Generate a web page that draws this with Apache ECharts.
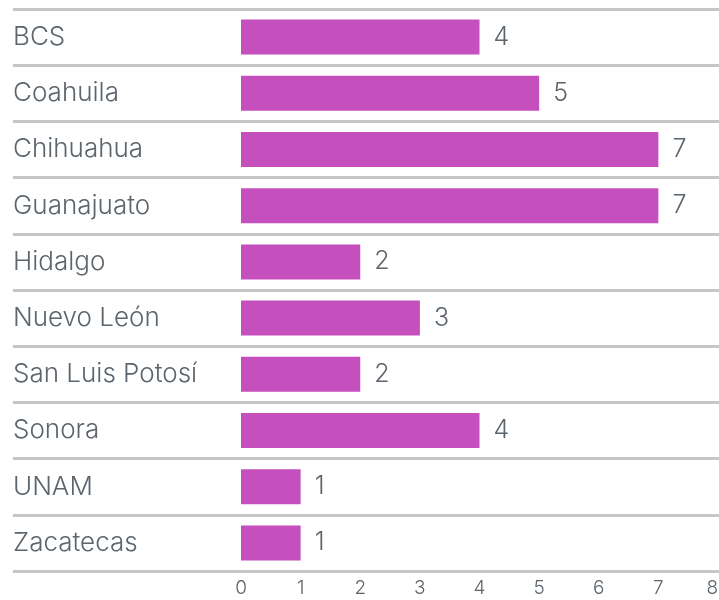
<!DOCTYPE html>
<html>
<head>
<meta charset="utf-8">
<script src="https://cdn.jsdelivr.net/npm/echarts@6/dist/echarts.min.js"></script>
<style>
  html, body { margin: 0; padding: 0; background: #fff; }
  #chart { width: 719px; height: 600px; }
</style>
</head>
<body>
<div id="chart"></div>
<script>
// Entities and their counts, listed top to bottom
const categories = ['BCS', 'Coahuila', 'Chihuahua', 'Guanajuato', 'Hidalgo',
  'Nuevo León', 'San Luis Potosí', 'Sonora', 'UNAM', 'Zacatecas'];
const counts = [4, 5, 7, 7, 2, 3, 2, 4, 1, 1];
const xTicks = [0, 1, 2, 3, 4, 5, 6, 7, 8];

const FONT = 'Inter';
const TEXT = '#5c646c';
const BAR = '#c64fbe';
const RULE = '#c6c6c6';

const chart = echarts.init(document.getElementById('chart'), null, { renderer: 'canvas' });

chart.setOption({
  animation: false,
  textStyle: { fontFamily: FONT },
  grid: [
    // bars
    { left: 241, right: 1, top: 9, bottom: 29, containLabel: false, outerBoundsMode: 'none' },
    // full-width row separators
    { left: 13, right: 0, top: 9, bottom: 29, containLabel: false, outerBoundsMode: 'none' }
  ],
  xAxis: [
    {
      gridIndex: 0, type: 'value',
      min: xTicks[0], max: xTicks[xTicks.length - 1], interval: 1,
      axisLine: { show: false }, axisTick: { show: false }, splitLine: { show: false },
      axisLabel: { color: TEXT, fontSize: 19, fontWeight: 300, fontFamily: FONT, margin: 8, alignMaxLabel: 'right' }
    },
    {
      gridIndex: 1, type: 'value', min: 0, max: 1, show: false
    }
  ],
  yAxis: [
    {
      gridIndex: 0, type: 'category', data: categories, inverse: true,
      axisLine: { show: false }, axisTick: { show: false }, splitLine: { show: false },
      axisLabel: { color: TEXT, fontSize: 26, fontWeight: 300, fontFamily: FONT, align: 'left', margin: 228 }
    },
    {
      gridIndex: 1, type: 'category', data: categories, inverse: true,
      axisLine: { show: false }, axisTick: { show: false }, axisLabel: { show: false },
      splitLine: { show: true, lineStyle: { color: RULE, width: 3 } }
    }
  ],
  series: [
    {
      type: 'bar', xAxisIndex: 0, yAxisIndex: 0,
      data: counts, barWidth: 35,
      itemStyle: { color: BAR },
      label: {
        show: true, position: 'right', distance: 14,
        color: TEXT, fontSize: 25, fontWeight: 300, fontFamily: FONT
      }
    }
  ]
});
</script>
</body>
</html>
